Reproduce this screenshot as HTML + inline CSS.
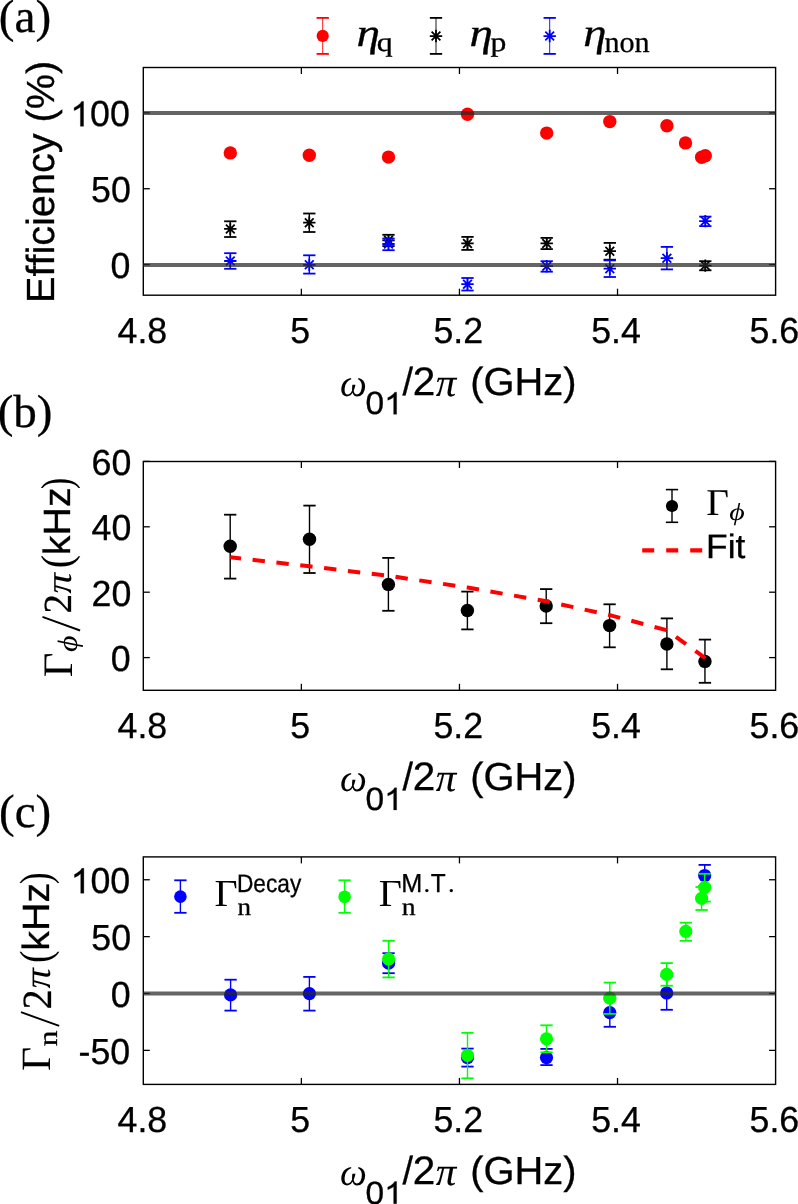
<!DOCTYPE html>
<html><head><meta charset="utf-8"><style>
html,body{margin:0;padding:0;background:#fff;overflow:hidden;}
svg{display:block;will-change:transform;}
text{font-variant-ligatures:none;font-kerning:none;text-rendering:geometricPrecision;stroke:#000;stroke-width:0.3px;}
</style></head><body>
<svg width="798" height="1204" viewBox="0 0 798 1204">
<rect width="798" height="1204" fill="#fff"/>
<text transform="translate(-1.18,32.12) scale(1.0083,1)" font-family='"Liberation Serif", serif' font-size="46.87" fill="#000">(a)</text>
<rect x="143.3" y="67.5" width="632.3" height="227.7" fill="none" stroke="#000" stroke-width="1.4"/>
<line x1="301.38" y1="295.20" x2="301.38" y2="288.70" stroke="#000" stroke-width="1.3" />
<line x1="301.38" y1="67.50" x2="301.38" y2="74.00" stroke="#000" stroke-width="1.3" />
<line x1="459.45" y1="295.20" x2="459.45" y2="288.70" stroke="#000" stroke-width="1.3" />
<line x1="459.45" y1="67.50" x2="459.45" y2="74.00" stroke="#000" stroke-width="1.3" />
<line x1="617.53" y1="295.20" x2="617.53" y2="288.70" stroke="#000" stroke-width="1.3" />
<line x1="617.53" y1="67.50" x2="617.53" y2="74.00" stroke="#000" stroke-width="1.3" />
<line x1="143.30" y1="264.60" x2="149.80" y2="264.60" stroke="#000" stroke-width="1.3" />
<line x1="775.60" y1="264.60" x2="769.10" y2="264.60" stroke="#000" stroke-width="1.3" />
<line x1="143.30" y1="188.74" x2="149.80" y2="188.74" stroke="#000" stroke-width="1.3" />
<line x1="775.60" y1="188.74" x2="769.10" y2="188.74" stroke="#000" stroke-width="1.3" />
<line x1="143.30" y1="112.87" x2="149.80" y2="112.87" stroke="#000" stroke-width="1.3" />
<line x1="775.60" y1="112.87" x2="769.10" y2="112.87" stroke="#000" stroke-width="1.3" />
<text transform="translate(117.51,343.14) scale(0.9850,1)" font-family='"Liberation Sans", sans-serif' font-size="36.30" fill="#000">4.8</text>
<text transform="translate(290.17,343.14) scale(0.9850,1)" font-family='"Liberation Sans", sans-serif' font-size="36.30" fill="#000">5</text>
<text transform="translate(433.48,343.14) scale(0.9850,1)" font-family='"Liberation Sans", sans-serif' font-size="36.30" fill="#000">5.2</text>
<text transform="translate(591.18,343.14) scale(0.9850,1)" font-family='"Liberation Sans", sans-serif' font-size="36.30" fill="#000">5.4</text>
<text transform="translate(749.52,343.14) scale(0.9850,1)" font-family='"Liberation Sans", sans-serif' font-size="36.30" fill="#000">5.6</text>
<text transform="translate(110.51,278.09) scale(0.9850,1)" font-family='"Liberation Sans", sans-serif' font-size="36.30" fill="#000">0</text>
<text transform="translate(91.03,202.23) scale(0.9850,1)" font-family='"Liberation Sans", sans-serif' font-size="36.30" fill="#000">50</text>
<text transform="translate(70.24,126.36) scale(0.9850,1)" font-family='"Liberation Sans", sans-serif' font-size="36.30" fill="#000"> 00</text><path transform="translate(70.24,126.36) scale(0.01746,-0.01772)" d="M763,0L583,0L583,1098Q518,1038 412,979Q307,920 223,890L223,1057Q374,1124 487,1221Q600,1318 647,1409L763,1409Z" fill="#000" stroke="#000" stroke-width="16.9"/>
<circle cx="230.30" cy="152.90" r="6.7" fill="#ff0000"/>
<circle cx="309.30" cy="155.30" r="6.7" fill="#ff0000"/>
<circle cx="388.50" cy="157.10" r="6.7" fill="#ff0000"/>
<circle cx="467.50" cy="114.30" r="6.7" fill="#ff0000"/>
<circle cx="546.70" cy="133.10" r="6.7" fill="#ff0000"/>
<circle cx="609.80" cy="121.60" r="6.7" fill="#ff0000"/>
<circle cx="666.90" cy="125.80" r="6.7" fill="#ff0000"/>
<circle cx="685.50" cy="142.90" r="6.7" fill="#ff0000"/>
<circle cx="701.60" cy="157.20" r="6.7" fill="#ff0000"/>
<circle cx="705.30" cy="155.70" r="6.7" fill="#ff0000"/>
<line x1="230.30" y1="221.30" x2="230.30" y2="237.00" stroke="#000" stroke-width="1.4" />
<line x1="224.15" y1="221.30" x2="236.45" y2="221.30" stroke="#000" stroke-width="1.8" />
<line x1="224.15" y1="237.00" x2="236.45" y2="237.00" stroke="#000" stroke-width="1.8" />
<path d="M224.10,228.90H236.50M230.30,222.70V235.10M225.92,224.52L234.68,233.28M225.92,233.28L234.68,224.52" stroke="#000" stroke-width="1.8" fill="none"/>
<line x1="309.30" y1="213.50" x2="309.30" y2="232.00" stroke="#000" stroke-width="1.4" />
<line x1="303.15" y1="213.50" x2="315.45" y2="213.50" stroke="#000" stroke-width="1.8" />
<line x1="303.15" y1="232.00" x2="315.45" y2="232.00" stroke="#000" stroke-width="1.8" />
<path d="M303.10,222.70H315.50M309.30,216.50V228.90M304.92,218.32L313.68,227.08M304.92,227.08L313.68,218.32" stroke="#000" stroke-width="1.8" fill="none"/>
<line x1="388.50" y1="234.80" x2="388.50" y2="246.10" stroke="#000" stroke-width="1.4" />
<line x1="382.35" y1="234.80" x2="394.65" y2="234.80" stroke="#000" stroke-width="1.8" />
<line x1="382.35" y1="246.10" x2="394.65" y2="246.10" stroke="#000" stroke-width="1.8" />
<path d="M382.30,240.30H394.70M388.50,234.10V246.50M384.12,235.92L392.88,244.68M384.12,244.68L392.88,235.92" stroke="#000" stroke-width="1.8" fill="none"/>
<line x1="467.50" y1="236.90" x2="467.50" y2="249.90" stroke="#000" stroke-width="1.4" />
<line x1="461.35" y1="236.90" x2="473.65" y2="236.90" stroke="#000" stroke-width="1.8" />
<line x1="461.35" y1="249.90" x2="473.65" y2="249.90" stroke="#000" stroke-width="1.8" />
<path d="M461.30,243.40H473.70M467.50,237.20V249.60M463.12,239.02L471.88,247.78M463.12,247.78L471.88,239.02" stroke="#000" stroke-width="1.8" fill="none"/>
<line x1="546.70" y1="237.90" x2="546.70" y2="249.10" stroke="#000" stroke-width="1.4" />
<line x1="540.55" y1="237.90" x2="552.85" y2="237.90" stroke="#000" stroke-width="1.8" />
<line x1="540.55" y1="249.10" x2="552.85" y2="249.10" stroke="#000" stroke-width="1.8" />
<path d="M540.50,243.40H552.90M546.70,237.20V249.60M542.32,239.02L551.08,247.78M542.32,247.78L551.08,239.02" stroke="#000" stroke-width="1.8" fill="none"/>
<line x1="609.80" y1="242.90" x2="609.80" y2="259.70" stroke="#000" stroke-width="1.4" />
<line x1="603.65" y1="242.90" x2="615.95" y2="242.90" stroke="#000" stroke-width="1.8" />
<line x1="603.65" y1="259.70" x2="615.95" y2="259.70" stroke="#000" stroke-width="1.8" />
<path d="M603.60,251.20H616.00M609.80,245.00V257.40M605.42,246.82L614.18,255.58M605.42,255.58L614.18,246.82" stroke="#000" stroke-width="1.8" fill="none"/>
<line x1="705.30" y1="261.20" x2="705.30" y2="270.30" stroke="#000" stroke-width="1.4" />
<line x1="699.15" y1="261.20" x2="711.45" y2="261.20" stroke="#000" stroke-width="1.8" />
<line x1="699.15" y1="270.30" x2="711.45" y2="270.30" stroke="#000" stroke-width="1.8" />
<path d="M699.10,265.60H711.50M705.30,259.40V271.80M700.92,261.22L709.68,269.98M700.92,269.98L709.68,261.22" stroke="#000" stroke-width="1.8" fill="none"/>
<line x1="230.30" y1="253.20" x2="230.30" y2="268.80" stroke="#0000ff" stroke-width="1.4" />
<line x1="224.15" y1="253.20" x2="236.45" y2="253.20" stroke="#0000ff" stroke-width="1.8" />
<line x1="224.15" y1="268.80" x2="236.45" y2="268.80" stroke="#0000ff" stroke-width="1.8" />
<path d="M224.10,261.00H236.50M230.30,254.80V267.20M225.92,256.62L234.68,265.38M225.92,265.38L234.68,256.62" stroke="#0000ff" stroke-width="1.8" fill="none"/>
<line x1="309.30" y1="255.30" x2="309.30" y2="273.60" stroke="#0000ff" stroke-width="1.4" />
<line x1="303.15" y1="255.30" x2="315.45" y2="255.30" stroke="#0000ff" stroke-width="1.8" />
<line x1="303.15" y1="273.60" x2="315.45" y2="273.60" stroke="#0000ff" stroke-width="1.8" />
<path d="M303.10,264.80H315.50M309.30,258.60V271.00M304.92,260.42L313.68,269.18M304.92,269.18L313.68,260.42" stroke="#0000ff" stroke-width="1.8" fill="none"/>
<line x1="388.50" y1="238.50" x2="388.50" y2="250.20" stroke="#0000ff" stroke-width="1.4" />
<line x1="382.35" y1="238.50" x2="394.65" y2="238.50" stroke="#0000ff" stroke-width="1.8" />
<line x1="382.35" y1="250.20" x2="394.65" y2="250.20" stroke="#0000ff" stroke-width="1.8" />
<path d="M382.30,244.00H394.70M388.50,237.80V250.20M384.12,239.62L392.88,248.38M384.12,248.38L392.88,239.62" stroke="#0000ff" stroke-width="1.8" fill="none"/>
<line x1="467.50" y1="278.00" x2="467.50" y2="290.50" stroke="#0000ff" stroke-width="1.4" />
<line x1="461.35" y1="278.00" x2="473.65" y2="278.00" stroke="#0000ff" stroke-width="1.8" />
<line x1="461.35" y1="290.50" x2="473.65" y2="290.50" stroke="#0000ff" stroke-width="1.8" />
<path d="M461.30,284.20H473.70M467.50,278.00V290.40M463.12,279.82L471.88,288.58M463.12,288.58L471.88,279.82" stroke="#0000ff" stroke-width="1.8" fill="none"/>
<line x1="546.70" y1="261.20" x2="546.70" y2="271.70" stroke="#0000ff" stroke-width="1.4" />
<line x1="540.55" y1="261.20" x2="552.85" y2="261.20" stroke="#0000ff" stroke-width="1.8" />
<line x1="540.55" y1="271.70" x2="552.85" y2="271.70" stroke="#0000ff" stroke-width="1.8" />
<path d="M540.50,266.20H552.90M546.70,260.00V272.40M542.32,261.82L551.08,270.58M542.32,270.58L551.08,261.82" stroke="#0000ff" stroke-width="1.8" fill="none"/>
<line x1="609.80" y1="260.40" x2="609.80" y2="277.00" stroke="#0000ff" stroke-width="1.4" />
<line x1="603.65" y1="260.40" x2="615.95" y2="260.40" stroke="#0000ff" stroke-width="1.8" />
<line x1="603.65" y1="277.00" x2="615.95" y2="277.00" stroke="#0000ff" stroke-width="1.8" />
<path d="M603.60,268.70H616.00M609.80,262.50V274.90M605.42,264.32L614.18,273.08M605.42,273.08L614.18,264.32" stroke="#0000ff" stroke-width="1.8" fill="none"/>
<line x1="666.90" y1="246.90" x2="666.90" y2="269.40" stroke="#0000ff" stroke-width="1.4" />
<line x1="660.75" y1="246.90" x2="673.05" y2="246.90" stroke="#0000ff" stroke-width="1.8" />
<line x1="660.75" y1="269.40" x2="673.05" y2="269.40" stroke="#0000ff" stroke-width="1.8" />
<path d="M660.70,258.20H673.10M666.90,252.00V264.40M662.52,253.82L671.28,262.58M662.52,262.58L671.28,253.82" stroke="#0000ff" stroke-width="1.8" fill="none"/>
<line x1="705.30" y1="216.60" x2="705.30" y2="226.10" stroke="#0000ff" stroke-width="1.4" />
<line x1="699.15" y1="216.60" x2="711.45" y2="216.60" stroke="#0000ff" stroke-width="1.8" />
<line x1="699.15" y1="226.10" x2="711.45" y2="226.10" stroke="#0000ff" stroke-width="1.8" />
<path d="M699.10,221.10H711.50M705.30,214.90V227.30M700.92,216.72L709.68,225.48M700.92,225.48L709.68,216.72" stroke="#0000ff" stroke-width="1.8" fill="none"/>
<line x1="143.3" y1="113.0" x2="775.6" y2="113.0" stroke="rgba(40,40,40,0.72)" stroke-width="4.0"/>
<line x1="143.3" y1="264.9" x2="775.6" y2="264.9" stroke="rgba(40,40,40,0.72)" stroke-width="4.0"/>
<line x1="322.70" y1="17.90" x2="322.70" y2="53.90" stroke="#ff0000" stroke-width="0.9" />
<line x1="316.55" y1="17.90" x2="328.85" y2="17.90" stroke="#ff0000" stroke-width="1.8" />
<line x1="316.55" y1="53.90" x2="328.85" y2="53.90" stroke="#ff0000" stroke-width="1.8" />
<circle cx="322.70" cy="35.90" r="6.1" fill="#ff0000"/>
<line x1="436.00" y1="17.90" x2="436.00" y2="53.90" stroke="#000" stroke-width="0.9" />
<line x1="429.85" y1="17.90" x2="442.15" y2="17.90" stroke="#000" stroke-width="1.8" />
<line x1="429.85" y1="53.90" x2="442.15" y2="53.90" stroke="#000" stroke-width="1.8" />
<path d="M429.80,36.05H442.20M436.00,29.85V42.25M431.62,31.67L440.38,40.43M431.62,40.43L440.38,31.67" stroke="#000" stroke-width="1.8" fill="none"/>
<line x1="549.70" y1="17.90" x2="549.70" y2="53.90" stroke="#0000ff" stroke-width="0.9" />
<line x1="543.55" y1="17.90" x2="555.85" y2="17.90" stroke="#0000ff" stroke-width="1.8" />
<line x1="543.55" y1="53.90" x2="555.85" y2="53.90" stroke="#0000ff" stroke-width="1.8" />
<path d="M543.50,36.05H555.90M549.70,29.85V42.25M545.32,31.67L554.08,40.43M545.32,40.43L554.08,31.67" stroke="#0000ff" stroke-width="1.8" fill="none"/>
<text transform="translate(356.42,46.08) scale(1.1983,1)" font-family='"Liberation Serif", serif' font-style="italic" font-size="39.44" fill="#000">η</text>
<text transform="translate(376.75,51.32) scale(1.1946,1)" font-family='"Liberation Serif", serif' font-size="26.66" fill="#000">q</text>
<text transform="translate(469.62,46.08) scale(1.1922,1)" font-family='"Liberation Serif", serif' font-style="italic" font-size="39.44" fill="#000">η</text>
<text transform="translate(490.49,51.24) scale(1.1721,1)" font-family='"Liberation Serif", serif' font-size="27.04" fill="#000">p</text>
<text transform="translate(583.33,46.15) scale(1.1818,1)" font-family='"Liberation Serif", serif' font-style="italic" font-size="39.59" fill="#000">η</text>
<text transform="translate(604.41,52.01) scale(1.0146,1)" font-family='"Liberation Serif", serif' font-size="29.73" fill="#000">non</text>
<g transform="rotate(-90)">
<text transform="translate(-303.05,54.45) scale(1.0101,1)" font-family='"Liberation Sans", sans-serif' font-size="39.26" fill="#000">Efficiency (%)</text>
</g>
<g transform="translate(0,0)">
<text transform="translate(339.94,395.83) scale(0.9937,1)" font-family='"Liberation Serif", serif' font-style="italic" style="stroke-width:0px" font-size="38.24" fill="#000">ω</text>
<text transform="translate(365.49,414.29) scale(1.0402,1)" font-family='"Liberation Sans", sans-serif' font-size="32.20" fill="#000">0 </text><path transform="translate(384.12,414.29) scale(0.01636,-0.01572)" d="M763,0L583,0L583,1098Q518,1038 412,979Q307,920 223,890L223,1057Q374,1124 487,1221Q600,1318 647,1409L763,1409Z" fill="#000" stroke="#000" stroke-width="19.1"/>
<text transform="translate(402.50,394.82) scale(0.9637,1)" font-family='"Liberation Sans", sans-serif' font-size="39.22" fill="#000">/</text>
<text transform="translate(412.66,394.60) scale(1.0200,1)" font-family='"Liberation Sans", sans-serif' font-size="39.81" fill="#000">2</text>
<text transform="translate(435.78,395.81) scale(1.0303,1)" font-family='"Liberation Serif", serif' font-style="italic" style="stroke-width:0.1px" font-size="39.68" fill="#000">π</text>
<text transform="translate(470.23,394.59) scale(1.0172,1)" font-family='"Liberation Sans", sans-serif' font-size="39.18" fill="#000">(GHz)</text>
</g>
<text transform="translate(-2.37,427.02) scale(1.0128,1)" font-family='"Liberation Serif", serif' font-size="46.43" fill="#000">(b)</text>
<rect x="143.3" y="461.5" width="632.3" height="228.79999999999995" fill="none" stroke="#000" stroke-width="1.4"/>
<line x1="301.38" y1="690.30" x2="301.38" y2="683.80" stroke="#000" stroke-width="1.3" />
<line x1="301.38" y1="461.50" x2="301.38" y2="468.00" stroke="#000" stroke-width="1.3" />
<line x1="459.45" y1="690.30" x2="459.45" y2="683.80" stroke="#000" stroke-width="1.3" />
<line x1="459.45" y1="461.50" x2="459.45" y2="468.00" stroke="#000" stroke-width="1.3" />
<line x1="617.53" y1="690.30" x2="617.53" y2="683.80" stroke="#000" stroke-width="1.3" />
<line x1="617.53" y1="461.50" x2="617.53" y2="468.00" stroke="#000" stroke-width="1.3" />
<line x1="143.30" y1="657.60" x2="149.80" y2="657.60" stroke="#000" stroke-width="1.3" />
<line x1="775.60" y1="657.60" x2="769.10" y2="657.60" stroke="#000" stroke-width="1.3" />
<line x1="143.30" y1="592.20" x2="149.80" y2="592.20" stroke="#000" stroke-width="1.3" />
<line x1="775.60" y1="592.20" x2="769.10" y2="592.20" stroke="#000" stroke-width="1.3" />
<line x1="143.30" y1="526.80" x2="149.80" y2="526.80" stroke="#000" stroke-width="1.3" />
<line x1="775.60" y1="526.80" x2="769.10" y2="526.80" stroke="#000" stroke-width="1.3" />
<line x1="143.30" y1="461.40" x2="149.80" y2="461.40" stroke="#000" stroke-width="1.3" />
<line x1="775.60" y1="461.40" x2="769.10" y2="461.40" stroke="#000" stroke-width="1.3" />
<text transform="translate(117.51,738.24) scale(0.9850,1)" font-family='"Liberation Sans", sans-serif' font-size="36.30" fill="#000">4.8</text>
<text transform="translate(290.17,738.24) scale(0.9850,1)" font-family='"Liberation Sans", sans-serif' font-size="36.30" fill="#000">5</text>
<text transform="translate(433.48,738.24) scale(0.9850,1)" font-family='"Liberation Sans", sans-serif' font-size="36.30" fill="#000">5.2</text>
<text transform="translate(591.18,738.24) scale(0.9850,1)" font-family='"Liberation Sans", sans-serif' font-size="36.30" fill="#000">5.4</text>
<text transform="translate(749.52,738.24) scale(0.9850,1)" font-family='"Liberation Sans", sans-serif' font-size="36.30" fill="#000">5.6</text>
<text transform="translate(110.81,671.09) scale(0.9850,1)" font-family='"Liberation Sans", sans-serif' font-size="36.30" fill="#000">0</text>
<text transform="translate(91.53,605.69) scale(0.9850,1)" font-family='"Liberation Sans", sans-serif' font-size="36.30" fill="#000">20</text>
<text transform="translate(91.53,540.29) scale(0.9850,1)" font-family='"Liberation Sans", sans-serif' font-size="36.30" fill="#000">40</text>
<text transform="translate(91.53,474.89) scale(0.9850,1)" font-family='"Liberation Sans", sans-serif' font-size="36.30" fill="#000">60</text>
<line x1="230.20" y1="514.70" x2="230.20" y2="578.60" stroke="#000" stroke-width="1.4" />
<line x1="224.05" y1="514.70" x2="236.35" y2="514.70" stroke="#000" stroke-width="1.8" />
<line x1="224.05" y1="578.60" x2="236.35" y2="578.60" stroke="#000" stroke-width="1.8" />
<circle cx="230.20" cy="546.30" r="6.7" fill="#000"/>
<line x1="309.50" y1="505.60" x2="309.50" y2="573.00" stroke="#000" stroke-width="1.4" />
<line x1="303.35" y1="505.60" x2="315.65" y2="505.60" stroke="#000" stroke-width="1.8" />
<line x1="303.35" y1="573.00" x2="315.65" y2="573.00" stroke="#000" stroke-width="1.8" />
<circle cx="309.50" cy="539.30" r="6.7" fill="#000"/>
<line x1="388.40" y1="557.90" x2="388.40" y2="610.80" stroke="#000" stroke-width="1.4" />
<line x1="382.25" y1="557.90" x2="394.55" y2="557.90" stroke="#000" stroke-width="1.8" />
<line x1="382.25" y1="610.80" x2="394.55" y2="610.80" stroke="#000" stroke-width="1.8" />
<circle cx="388.40" cy="584.40" r="6.7" fill="#000"/>
<line x1="467.40" y1="591.60" x2="467.40" y2="629.40" stroke="#000" stroke-width="1.4" />
<line x1="461.25" y1="591.60" x2="473.55" y2="591.60" stroke="#000" stroke-width="1.8" />
<line x1="461.25" y1="629.40" x2="473.55" y2="629.40" stroke="#000" stroke-width="1.8" />
<circle cx="467.40" cy="610.50" r="6.7" fill="#000"/>
<line x1="546.20" y1="589.10" x2="546.20" y2="623.20" stroke="#000" stroke-width="1.4" />
<line x1="540.05" y1="589.10" x2="552.35" y2="589.10" stroke="#000" stroke-width="1.8" />
<line x1="540.05" y1="623.20" x2="552.35" y2="623.20" stroke="#000" stroke-width="1.8" />
<circle cx="546.20" cy="606.00" r="6.7" fill="#000"/>
<line x1="609.60" y1="604.30" x2="609.60" y2="647.30" stroke="#000" stroke-width="1.4" />
<line x1="603.45" y1="604.30" x2="615.75" y2="604.30" stroke="#000" stroke-width="1.8" />
<line x1="603.45" y1="647.30" x2="615.75" y2="647.30" stroke="#000" stroke-width="1.8" />
<circle cx="609.60" cy="625.60" r="6.7" fill="#000"/>
<line x1="666.90" y1="618.40" x2="666.90" y2="669.30" stroke="#000" stroke-width="1.4" />
<line x1="660.75" y1="618.40" x2="673.05" y2="618.40" stroke="#000" stroke-width="1.8" />
<line x1="660.75" y1="669.30" x2="673.05" y2="669.30" stroke="#000" stroke-width="1.8" />
<circle cx="666.90" cy="644.00" r="6.7" fill="#000"/>
<line x1="704.95" y1="639.60" x2="704.95" y2="682.80" stroke="#000" stroke-width="1.4" />
<line x1="698.80" y1="639.60" x2="711.10" y2="639.60" stroke="#000" stroke-width="1.8" />
<line x1="698.80" y1="682.80" x2="711.10" y2="682.80" stroke="#000" stroke-width="1.8" />
<circle cx="704.95" cy="661.40" r="6.7" fill="#000"/>
<polyline points="230.3,557.2 309.5,566.3 388.5,575.8 467.5,587.5 546.5,601.3 609.8,615.1 666.8,630.2 705.3,658.1" fill="none" stroke="#ff0000" stroke-width="4.0" stroke-dasharray="12.4 11.6" stroke-dashoffset="1.6"/>
<line x1="672.00" y1="489.60" x2="672.00" y2="522.30" stroke="#000" stroke-width="1.4" />
<line x1="665.85" y1="489.60" x2="678.15" y2="489.60" stroke="#000" stroke-width="1.6" />
<line x1="665.85" y1="522.30" x2="678.15" y2="522.30" stroke="#000" stroke-width="1.6" />
<circle cx="672.00" cy="506.00" r="6.1" fill="#000"/>
<text transform="translate(706.37,514.70) scale(1.0365,1)" font-family='"Liberation Serif", serif' style="stroke-width:0px" font-size="37.88" fill="#000">Γ</text>
<text transform="translate(729.21,519.61) scale(1.2278,1)" font-family='"Liberation Serif", serif' font-style="italic" style="stroke-width:0px" font-size="24.37" fill="#000">ϕ</text>
<line x1="642.2" y1="550.3" x2="702.2" y2="550.3" stroke="#ff0000" stroke-width="4.2" stroke-dasharray="12 12"/>
<text transform="translate(706.10,557.64) scale(1.0437,1)" font-family='"Liberation Sans", sans-serif' font-size="33.86" fill="#000">Fit</text>
<g transform="translate(71.5,676.0) rotate(-90)">
<text transform="translate(-1.23,0.00) scale(1.0176,1)" font-family='"Liberation Serif", serif' style="stroke-width:0px" font-size="42.00" fill="#000">Γ</text>
<text transform="translate(24.06,5.44) scale(1.1440,1)" font-family='"Liberation Serif", serif' font-style="italic" style="stroke-width:0px" font-size="28.01" fill="#000">ϕ</text>
<line x1="45.50" y1="8.60" x2="59.20" y2="-29.00" stroke="#000" stroke-width="1.9"/>
<text transform="translate(62.48,-0.50) scale(0.9822,1)" font-family='"Liberation Serif", serif' font-size="39.87" fill="#000">2</text>
<text transform="translate(82.28,-0.36) scale(1.1352,1)" font-family='"Liberation Serif", serif' font-style="italic" style="stroke-width:0px" font-size="36.69" fill="#000">π</text>
<text transform="translate(107.64,-0.05) scale(0.9229,1)" font-family='"Liberation Serif", serif' style="stroke-width:0px" font-size="43.45" fill="#000">(</text>
<text transform="translate(120.85,-1.60) scale(1.0359,1)" font-family='"Liberation Sans", sans-serif' font-size="37.95" fill="#000">kHz</text>
<text transform="translate(187.12,-0.05) scale(0.7706,1)" font-family='"Liberation Serif", serif' style="stroke-width:0px" font-size="43.45" fill="#000">)</text>
</g>
<g transform="translate(0,395.6)">
<text transform="translate(339.94,395.83) scale(0.9937,1)" font-family='"Liberation Serif", serif' font-style="italic" style="stroke-width:0px" font-size="38.24" fill="#000">ω</text>
<text transform="translate(365.49,414.29) scale(1.0402,1)" font-family='"Liberation Sans", sans-serif' font-size="32.20" fill="#000">0 </text><path transform="translate(384.12,414.29) scale(0.01636,-0.01572)" d="M763,0L583,0L583,1098Q518,1038 412,979Q307,920 223,890L223,1057Q374,1124 487,1221Q600,1318 647,1409L763,1409Z" fill="#000" stroke="#000" stroke-width="19.1"/>
<text transform="translate(402.50,394.82) scale(0.9637,1)" font-family='"Liberation Sans", sans-serif' font-size="39.22" fill="#000">/</text>
<text transform="translate(412.66,394.60) scale(1.0200,1)" font-family='"Liberation Sans", sans-serif' font-size="39.81" fill="#000">2</text>
<text transform="translate(435.78,395.81) scale(1.0303,1)" font-family='"Liberation Serif", serif' font-style="italic" style="stroke-width:0.1px" font-size="39.68" fill="#000">π</text>
<text transform="translate(470.23,394.59) scale(1.0172,1)" font-family='"Liberation Sans", sans-serif' font-size="39.18" fill="#000">(GHz)</text>
</g>
<text transform="translate(-0.97,826.92) scale(1.0042,1)" font-family='"Liberation Serif", serif' font-size="46.87" fill="#000">(c)</text>
<rect x="143.3" y="856.9" width="632.3" height="227.5000000000001" fill="none" stroke="#000" stroke-width="1.4"/>
<line x1="301.38" y1="1084.40" x2="301.38" y2="1077.90" stroke="#000" stroke-width="1.3" />
<line x1="301.38" y1="856.90" x2="301.38" y2="863.40" stroke="#000" stroke-width="1.3" />
<line x1="459.45" y1="1084.40" x2="459.45" y2="1077.90" stroke="#000" stroke-width="1.3" />
<line x1="459.45" y1="856.90" x2="459.45" y2="863.40" stroke="#000" stroke-width="1.3" />
<line x1="617.53" y1="1084.40" x2="617.53" y2="1077.90" stroke="#000" stroke-width="1.3" />
<line x1="617.53" y1="856.90" x2="617.53" y2="863.40" stroke="#000" stroke-width="1.3" />
<line x1="143.30" y1="1050.38" x2="149.80" y2="1050.38" stroke="#000" stroke-width="1.3" />
<line x1="775.60" y1="1050.38" x2="769.10" y2="1050.38" stroke="#000" stroke-width="1.3" />
<line x1="143.30" y1="993.50" x2="149.80" y2="993.50" stroke="#000" stroke-width="1.3" />
<line x1="775.60" y1="993.50" x2="769.10" y2="993.50" stroke="#000" stroke-width="1.3" />
<line x1="143.30" y1="936.62" x2="149.80" y2="936.62" stroke="#000" stroke-width="1.3" />
<line x1="775.60" y1="936.62" x2="769.10" y2="936.62" stroke="#000" stroke-width="1.3" />
<line x1="143.30" y1="879.75" x2="149.80" y2="879.75" stroke="#000" stroke-width="1.3" />
<line x1="775.60" y1="879.75" x2="769.10" y2="879.75" stroke="#000" stroke-width="1.3" />
<text transform="translate(117.51,1132.34) scale(0.9850,1)" font-family='"Liberation Sans", sans-serif' font-size="36.30" fill="#000">4.8</text>
<text transform="translate(290.17,1132.34) scale(0.9850,1)" font-family='"Liberation Sans", sans-serif' font-size="36.30" fill="#000">5</text>
<text transform="translate(433.48,1132.34) scale(0.9850,1)" font-family='"Liberation Sans", sans-serif' font-size="36.30" fill="#000">5.2</text>
<text transform="translate(591.18,1132.34) scale(0.9850,1)" font-family='"Liberation Sans", sans-serif' font-size="36.30" fill="#000">5.4</text>
<text transform="translate(749.52,1132.34) scale(0.9850,1)" font-family='"Liberation Sans", sans-serif' font-size="36.30" fill="#000">5.6</text>
<text transform="translate(78.52,1063.87) scale(0.9850,1)" font-family='"Liberation Sans", sans-serif' font-size="36.30" fill="#000">-50</text>
<text transform="translate(110.71,1006.99) scale(0.9850,1)" font-family='"Liberation Sans", sans-serif' font-size="36.30" fill="#000">0</text>
<text transform="translate(91.33,950.12) scale(0.9850,1)" font-family='"Liberation Sans", sans-serif' font-size="36.30" fill="#000">50</text>
<text transform="translate(70.54,893.24) scale(0.9850,1)" font-family='"Liberation Sans", sans-serif' font-size="36.30" fill="#000"> 00</text><path transform="translate(70.54,893.24) scale(0.01746,-0.01772)" d="M763,0L583,0L583,1098Q518,1038 412,979Q307,920 223,890L223,1057Q374,1124 487,1221Q600,1318 647,1409L763,1409Z" fill="#000" stroke="#000" stroke-width="16.9"/>
<line x1="230.60" y1="979.70" x2="230.60" y2="1010.60" stroke="#0000ff" stroke-width="1.4" />
<line x1="224.45" y1="979.70" x2="236.75" y2="979.70" stroke="#0000ff" stroke-width="1.8" />
<line x1="224.45" y1="1010.60" x2="236.75" y2="1010.60" stroke="#0000ff" stroke-width="1.8" />
<circle cx="230.60" cy="994.90" r="6.6" fill="#0000ff"/>
<line x1="309.40" y1="976.90" x2="309.40" y2="1010.60" stroke="#0000ff" stroke-width="1.4" />
<line x1="303.25" y1="976.90" x2="315.55" y2="976.90" stroke="#0000ff" stroke-width="1.8" />
<line x1="303.25" y1="1010.60" x2="315.55" y2="1010.60" stroke="#0000ff" stroke-width="1.8" />
<circle cx="309.40" cy="993.60" r="6.6" fill="#0000ff"/>
<line x1="388.60" y1="953.20" x2="388.60" y2="973.20" stroke="#0000ff" stroke-width="1.4" />
<line x1="382.45" y1="953.20" x2="394.75" y2="953.20" stroke="#0000ff" stroke-width="1.8" />
<line x1="382.45" y1="973.20" x2="394.75" y2="973.20" stroke="#0000ff" stroke-width="1.8" />
<circle cx="388.60" cy="963.20" r="6.6" fill="#0000ff"/>
<line x1="467.50" y1="1048.60" x2="467.50" y2="1066.60" stroke="#0000ff" stroke-width="1.4" />
<line x1="461.35" y1="1048.60" x2="473.65" y2="1048.60" stroke="#0000ff" stroke-width="1.8" />
<line x1="461.35" y1="1066.60" x2="473.65" y2="1066.60" stroke="#0000ff" stroke-width="1.8" />
<circle cx="467.50" cy="1057.60" r="6.6" fill="#0000ff"/>
<line x1="546.50" y1="1048.90" x2="546.50" y2="1065.10" stroke="#0000ff" stroke-width="1.4" />
<line x1="540.35" y1="1048.90" x2="552.65" y2="1048.90" stroke="#0000ff" stroke-width="1.8" />
<line x1="540.35" y1="1065.10" x2="552.65" y2="1065.10" stroke="#0000ff" stroke-width="1.8" />
<circle cx="546.50" cy="1057.60" r="6.6" fill="#0000ff"/>
<line x1="609.80" y1="998.40" x2="609.80" y2="1026.80" stroke="#0000ff" stroke-width="1.4" />
<line x1="603.65" y1="998.40" x2="615.95" y2="998.40" stroke="#0000ff" stroke-width="1.8" />
<line x1="603.65" y1="1026.80" x2="615.95" y2="1026.80" stroke="#0000ff" stroke-width="1.8" />
<circle cx="609.80" cy="1012.60" r="6.6" fill="#0000ff"/>
<line x1="666.70" y1="976.20" x2="666.70" y2="1009.80" stroke="#0000ff" stroke-width="1.4" />
<line x1="660.55" y1="976.20" x2="672.85" y2="976.20" stroke="#0000ff" stroke-width="1.8" />
<line x1="660.55" y1="1009.80" x2="672.85" y2="1009.80" stroke="#0000ff" stroke-width="1.8" />
<circle cx="666.70" cy="993.00" r="6.6" fill="#0000ff"/>
<line x1="704.70" y1="864.90" x2="704.70" y2="886.10" stroke="#0000ff" stroke-width="1.4" />
<line x1="698.55" y1="864.90" x2="710.85" y2="864.90" stroke="#0000ff" stroke-width="1.8" />
<line x1="698.55" y1="886.10" x2="710.85" y2="886.10" stroke="#0000ff" stroke-width="1.8" />
<circle cx="704.70" cy="875.50" r="6.6" fill="#0000ff"/>
<line x1="388.60" y1="940.80" x2="388.60" y2="977.40" stroke="#00ff00" stroke-width="1.4" />
<line x1="382.45" y1="940.80" x2="394.75" y2="940.80" stroke="#00ff00" stroke-width="1.8" />
<line x1="382.45" y1="977.40" x2="394.75" y2="977.40" stroke="#00ff00" stroke-width="1.8" />
<circle cx="388.60" cy="959.00" r="6.6" fill="#00ff00"/>
<line x1="467.50" y1="1032.80" x2="467.50" y2="1078.30" stroke="#00ff00" stroke-width="1.4" />
<line x1="461.35" y1="1032.80" x2="473.65" y2="1032.80" stroke="#00ff00" stroke-width="1.8" />
<line x1="461.35" y1="1078.30" x2="473.65" y2="1078.30" stroke="#00ff00" stroke-width="1.8" />
<circle cx="467.50" cy="1055.30" r="6.6" fill="#00ff00"/>
<line x1="546.50" y1="1025.30" x2="546.50" y2="1052.30" stroke="#00ff00" stroke-width="1.4" />
<line x1="540.35" y1="1025.30" x2="552.65" y2="1025.30" stroke="#00ff00" stroke-width="1.8" />
<line x1="540.35" y1="1052.30" x2="552.65" y2="1052.30" stroke="#00ff00" stroke-width="1.8" />
<circle cx="546.50" cy="1038.80" r="6.6" fill="#00ff00"/>
<line x1="609.80" y1="982.60" x2="609.80" y2="1013.90" stroke="#00ff00" stroke-width="1.4" />
<line x1="603.65" y1="982.60" x2="615.95" y2="982.60" stroke="#00ff00" stroke-width="1.8" />
<line x1="603.65" y1="1013.90" x2="615.95" y2="1013.90" stroke="#00ff00" stroke-width="1.8" />
<circle cx="609.80" cy="998.20" r="6.6" fill="#00ff00"/>
<line x1="666.70" y1="963.10" x2="666.70" y2="985.70" stroke="#00ff00" stroke-width="1.4" />
<line x1="660.55" y1="963.10" x2="672.85" y2="963.10" stroke="#00ff00" stroke-width="1.8" />
<line x1="660.55" y1="985.70" x2="672.85" y2="985.70" stroke="#00ff00" stroke-width="1.8" />
<circle cx="666.70" cy="974.40" r="6.6" fill="#00ff00"/>
<line x1="685.80" y1="922.70" x2="685.80" y2="940.80" stroke="#00ff00" stroke-width="1.4" />
<line x1="679.65" y1="922.70" x2="691.95" y2="922.70" stroke="#00ff00" stroke-width="1.8" />
<line x1="679.65" y1="940.80" x2="691.95" y2="940.80" stroke="#00ff00" stroke-width="1.8" />
<circle cx="685.80" cy="931.40" r="6.6" fill="#00ff00"/>
<line x1="704.70" y1="873.80" x2="704.70" y2="901.60" stroke="#00ff00" stroke-width="1.4" />
<line x1="698.55" y1="873.80" x2="710.85" y2="873.80" stroke="#00ff00" stroke-width="1.8" />
<line x1="698.55" y1="901.60" x2="710.85" y2="901.60" stroke="#00ff00" stroke-width="1.8" />
<circle cx="704.70" cy="887.40" r="6.6" fill="#00ff00"/>
<line x1="701.60" y1="887.00" x2="701.60" y2="910.00" stroke="#00ff00" stroke-width="1.4" />
<line x1="695.45" y1="887.00" x2="707.75" y2="887.00" stroke="#00ff00" stroke-width="1.8" />
<line x1="695.45" y1="910.00" x2="707.75" y2="910.00" stroke="#00ff00" stroke-width="1.8" />
<circle cx="701.60" cy="898.40" r="6.6" fill="#00ff00"/>
<line x1="143.3" y1="993.5" x2="775.6" y2="993.5" stroke="rgba(40,40,40,0.72)" stroke-width="3.8"/>
<line x1="180.40" y1="880.30" x2="180.40" y2="912.80" stroke="#0000ff" stroke-width="1.4" />
<line x1="174.25" y1="880.30" x2="186.55" y2="880.30" stroke="#0000ff" stroke-width="1.8" />
<line x1="174.25" y1="912.80" x2="186.55" y2="912.80" stroke="#0000ff" stroke-width="1.8" />
<circle cx="180.40" cy="896.60" r="6.3" fill="#0000ff"/>
<line x1="344.60" y1="880.30" x2="344.60" y2="912.80" stroke="#00ff00" stroke-width="1.4" />
<line x1="338.45" y1="880.30" x2="350.75" y2="880.30" stroke="#00ff00" stroke-width="1.8" />
<line x1="338.45" y1="912.80" x2="350.75" y2="912.80" stroke="#00ff00" stroke-width="1.8" />
<circle cx="344.60" cy="896.70" r="6.3" fill="#00ff00"/>
<text transform="translate(214.45,905.70) scale(1.0485,1)" font-family='"Liberation Serif", serif' style="stroke-width:0px" font-size="38.18" fill="#000">Γ</text>
<text transform="translate(237.58,914.90) scale(1.0898,1)" font-family='"Liberation Serif", serif' font-size="24.83" fill="#000">n</text>
<text transform="translate(236.94,891.76) scale(0.8990,1)" font-family='"Liberation Sans", sans-serif' font-size="25.24" fill="#000">Decay</text>
<text transform="translate(378.85,905.70) scale(1.0485,1)" font-family='"Liberation Serif", serif' style="stroke-width:0px" font-size="38.18" fill="#000">Γ</text>
<text transform="translate(401.66,914.90) scale(1.1160,1)" font-family='"Liberation Serif", serif' font-size="24.83" fill="#000">n</text>
<text transform="translate(401.13,892.30) scale(0.9710,1)" font-family='"Liberation Sans", sans-serif' font-size="26.02" fill="#000">M</text>
<circle cx="426.85" cy="890.55" r="1.65" fill="#000"/>
<text transform="translate(430.85,892.30) scale(0.9381,1)" font-family='"Liberation Sans", sans-serif' font-size="26.02" fill="#000">T</text>
<circle cx="451.3" cy="890.55" r="1.65" fill="#000"/>
<g transform="translate(50.4,1069.8) rotate(-90)">
<text transform="translate(-1.20,0.00) scale(1.0019,1)" font-family='"Liberation Serif", serif' style="stroke-width:0px" font-size="41.69" fill="#000">Γ</text>
<text transform="translate(23.57,6.10) scale(1.1545,1)" font-family='"Liberation Serif", serif' font-size="27.38" fill="#000">n</text>
<line x1="43.90" y1="8.80" x2="57.60" y2="-29.40" stroke="#000" stroke-width="1.9"/>
<text transform="translate(60.32,0.20) scale(0.9730,1)" font-family='"Liberation Serif", serif' font-size="41.53" fill="#000">2</text>
<text transform="translate(81.28,-0.17) scale(1.0665,1)" font-family='"Liberation Serif", serif' font-style="italic" style="stroke-width:0px" font-size="37.97" fill="#000">π</text>
<text transform="translate(106.74,0.03) scale(0.8583,1)" font-family='"Liberation Serif", serif' style="stroke-width:0px" font-size="44.00" fill="#000">(</text>
<text transform="translate(119.15,-1.40) scale(1.0376,1)" font-family='"Liberation Sans", sans-serif' font-size="37.95" fill="#000">kHz</text>
<text transform="translate(185.45,0.03) scale(0.8140,1)" font-family='"Liberation Serif", serif' style="stroke-width:0px" font-size="44.00" fill="#000">)</text>
</g>
<g transform="translate(0,789.4)">
<text transform="translate(339.94,395.83) scale(0.9937,1)" font-family='"Liberation Serif", serif' font-style="italic" style="stroke-width:0px" font-size="38.24" fill="#000">ω</text>
<text transform="translate(365.49,414.29) scale(1.0402,1)" font-family='"Liberation Sans", sans-serif' font-size="32.20" fill="#000">0 </text><path transform="translate(384.12,414.29) scale(0.01636,-0.01572)" d="M763,0L583,0L583,1098Q518,1038 412,979Q307,920 223,890L223,1057Q374,1124 487,1221Q600,1318 647,1409L763,1409Z" fill="#000" stroke="#000" stroke-width="19.1"/>
<text transform="translate(402.50,394.82) scale(0.9637,1)" font-family='"Liberation Sans", sans-serif' font-size="39.22" fill="#000">/</text>
<text transform="translate(412.66,394.60) scale(1.0200,1)" font-family='"Liberation Sans", sans-serif' font-size="39.81" fill="#000">2</text>
<text transform="translate(435.78,395.81) scale(1.0303,1)" font-family='"Liberation Serif", serif' font-style="italic" style="stroke-width:0.1px" font-size="39.68" fill="#000">π</text>
<text transform="translate(470.23,394.59) scale(1.0172,1)" font-family='"Liberation Sans", sans-serif' font-size="39.18" fill="#000">(GHz)</text>
</g>
</svg>
</body></html>
